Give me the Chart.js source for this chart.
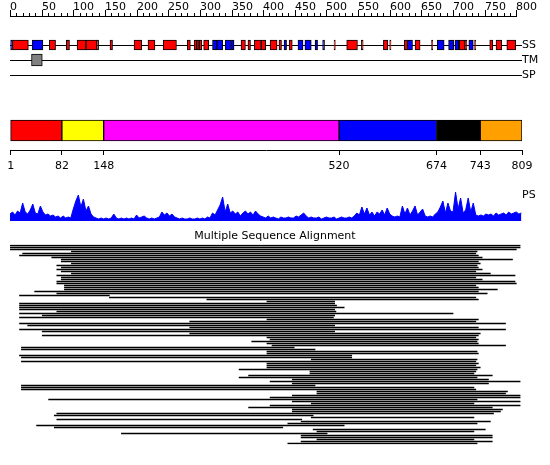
<!DOCTYPE html>
<html>
<head>
<meta charset="utf-8">
<script src="https://cdn.jsdelivr.net/npm/chart.js@4"></script>
<style>
  body { margin: 0; background: #fff; }
  #wrap { position: relative; width: 550px; height: 465px; background: #fff; }
  canvas { position: absolute; left: 0; }
</style>
</head>
<body>
<div id="wrap">
  <canvas id="tracks" width="550" height="84" style="top:0px"></canvas>
  <canvas id="domains" width="550" height="75" style="top:105px"></canvas>
  <canvas id="profile" width="550" height="45" style="top:180px"></canvas>
  <canvas id="msa" width="550" height="235" style="top:225px"></canvas>
</div>
<script>
// sequence length and ruler
const seqLength = 809;
const rulerLabels = [0, 50, 100, 150, 200, 250, 300, 350, 400, 450, 500, 550, 600, 650, 700, 750, 800];

// tracks
const trackNames = ['SS', 'TM', 'SP'];
const ssStart = [1, 4, 35, 62, 89, 106, 120, 137, 158, 196, 218, 242, 280, 291, 295, 299, 306, 320, 327, 340, 350, 365, 376, 386, 397, 411, 425, 433, 441, 455, 466, 482, 494, 512, 532, 555, 590, 600, 623, 628, 640, 666, 675, 693, 703, 710, 719, 725, 734, 758, 768, 785];
const ssEnd   = [4, 29, 52, 72, 94, 120, 137, 140, 162, 208, 229, 263, 285, 295, 299, 303, 314, 327, 336, 350, 354, 372, 380, 397, 404, 422, 429, 437, 446, 463, 476, 486, 497, 514, 549, 558, 597, 602, 628, 636, 648, 668, 686, 701, 709, 719, 722, 732, 736, 763, 777, 799];
const ssType  = ['E', 'H', 'E', 'H', 'H', 'H', 'H', 'H', 'H', 'H', 'H', 'H', 'H', 'H', 'H', 'H', 'H',
                 'E', 'E', 'E', 'E', 'H', 'H', 'H', 'H', 'H', 'H', 'E', 'H', 'E', 'E', 'E', 'E',
                 'H', 'H', 'H', 'H', 'H', 'H', 'E', 'H', 'H', 'E', 'E', 'E', 'H', 'H', 'E', 'H', 'H', 'H', 'H'];
const tmStart = [34];
const tmEnd = [51];

// domains
const domainStart = [1, 82, 148, 520, 674, 743];
const domainEnd = [82, 148, 520, 674, 743, 809];
const domainColors = ['#ff0000', '#ffff00', '#ff00ff', '#0000ff', '#000000', '#ffa000'];
const domainTicks = [1, 82, 148, 520, 674, 743, 809];

// profile score (every 4 residues)
const psScore = [
  7, 9, 6, 10, 8, 18, 9, 7, 11, 17, 8, 7, 15, 9, 6, 7, 5, 6, 4, 5, 3, 5, 3, 4, 3,
  12, 20, 26, 14, 22, 10, 15, 7, 4, 3, 2, 3, 2, 3, 2, 3, 7, 3, 2, 3, 2, 3, 2, 3, 2,
  6, 3, 4, 5, 3, 2, 3, 2, 3, 4, 9, 6, 8, 5, 7, 4, 3, 2, 3, 2, 2, 3, 2, 2, 3,
  2, 3, 2, 4, 3, 8, 6, 11, 16, 24, 9, 17, 8, 10, 7, 9, 5, 8, 10, 7, 9, 6, 10, 7, 5,
  4, 3, 5, 3, 4, 3, 2, 4, 3, 3, 4, 3, 3, 5, 4, 6, 8, 5, 3, 4, 3, 3, 4, 2, 3,
  4, 3, 3, 4, 2, 3, 4, 3, 3, 4, 3, 5, 8, 6, 14, 7, 13, 6, 9, 5, 9, 7, 11, 6, 13,
  7, 5, 4, 5, 4, 15, 7, 13, 6, 10, 15, 6, 9, 12, 5, 4, 5, 4, 7, 9, 14, 20, 8, 18, 10,
  9, 29, 12, 23, 8, 11, 23, 9, 18, 6, 5, 6, 5, 7, 6, 7, 5, 8, 6, 7, 8, 6, 9, 7, 8,
  9, 7, 8
];
const psResidue = psScore.map((v, i) => i * 4);

// alignment rows (start / end residue)
const msaStart = [
  0, 0, 0, 97, 20, 15, 66, 81, 81, 97,
  74, 81, 74, 81, 97, 74, 81, 81, 74, 74,
  86, 86, 86, 39, 74, 15, 157, 311, 406, 15,
  15, 15, 15, 74, 15, 51, 15, 406, 284, 15,
  28, 284, 15, 51, 284, 51, 406, 411,
  382, 406, 414, 18, 18, 406, 406, 15, 18, 476,
  18, 406, 406, 406, 362, 474, 474, 377, 362, 446,
  411, 446, 18, 18, 18, 485, 485, 446, 411, 61,
  446, 476, 411, 377, 446, 446, 74, 70, 476, 74,
  460, 439, 42, 70, 479, 485, 176, 460, 460, 485,
  460, 439
];
const msaEnd = [
  806, 806, 800, 738, 736, 740, 746, 794, 740, 743,
  738, 740, 746, 736, 759, 798, 736, 746, 798, 800,
  736, 740, 770, 740, 754, 157, 736, 740, 513, 513,
  516, 528, 513, 515, 700, 513, 511, 740, 736, 783,
  513, 740, 783, 513, 743, 740, 736, 740,
  738, 740, 783, 449, 482, 738, 740, 540, 540, 738,
  736, 740, 736, 743, 738, 736, 733, 762, 738, 756,
  806, 756, 482, 733, 736, 786, 783, 806, 806, 738,
  806, 733, 806, 762, 778, 775, 764, 479, 733, 461,
  759, 738, 528, 431, 751, 733, 501, 762, 762, 733,
  762, 738
];

Chart.defaults.font.family = '"DejaVu Sans", sans-serif';
Chart.defaults.font.size = 11;
Chart.defaults.color = '#000';

const common = {
  responsive: false,
  animation: false,
  devicePixelRatio: 1,
  events: [],
};
const noPlugins = { legend: { display: false }, tooltip: { enabled: false } };
const xRes = { type: 'linear', min: 0, max: seqLength, display: false };

// small helper for text drawn on a chart's canvas
const textPlugin = (id, text, where) => ({
  id,
  afterDraw(chart) {
    const ctx = chart.ctx;
    const p = where(chart);
    ctx.save();
    ctx.fillStyle = '#000';
    ctx.font = '11px "DejaVu Sans"';
    ctx.textBaseline = 'middle';
    ctx.textAlign = p.align || 'left';
    ctx.fillText(text, p.x, p.y);
    ctx.restore();
  }
});

// ruler along the top, drawn from the x scale
const rulerPlugin = {
  id: 'ruler',
  afterDraw(chart) {
    const x = chart.scales.x;
    const ctx = chart.ctx;
    ctx.save();
    ctx.strokeStyle = '#000';
    ctx.lineWidth = 1;
    ctx.beginPath();
    ctx.moveTo(Math.round(x.getPixelForValue(0)), 16.5);
    ctx.lineTo(Math.round(x.getPixelForValue(800)) + 1, 16.5);
    for (let v = 0; v <= 800; v += 10) {
      const px = Math.round(x.getPixelForValue(v)) + 0.5;
      ctx.moveTo(px, v % 50 === 0 ? 10 : 13);
      ctx.lineTo(px, 16.5);
    }
    ctx.stroke();
    ctx.fillStyle = '#000';
    ctx.font = '11px "DejaVu Sans"';
    ctx.textBaseline = 'alphabetic';
    ctx.textAlign = 'left';
    rulerLabels.forEach(v => ctx.fillText(String(v), Math.round(x.getPixelForValue(v)), 10));
    ctx.restore();
  }
};

new Chart(document.getElementById('tracks'), {
  type: 'bar',
  data: {
    labels: trackNames,
    datasets: [
      {
        data: ssStart.map((s, i) => ({ x: [s, ssEnd[i]], y: 'SS' })),
        backgroundColor: ssType.map(t => t === 'H' ? '#ff0000' : '#0000ff'),
        borderColor: '#000',
        borderWidth: 1,
        borderSkipped: false,
        barThickness: 10,
        grouped: false
      },
      {
        data: tmStart.map((s, i) => ({ x: [s, tmEnd[i]], y: 'TM' })),
        backgroundColor: '#808080',
        borderColor: '#000',
        borderWidth: 1,
        borderSkipped: false,
        barThickness: 12,
        grouped: false
      }
    ]
  },
  options: {
    ...common,
    indexAxis: 'y',
    layout: { padding: { left: 10, right: 0, top: 37.5, bottom: 1.5 } },
    plugins: noPlugins,
    scales: {
      x: xRes,
      y: {
        type: 'category',
        position: 'right',
        offset: true,
        grid: { offset: false, color: '#000', drawTicks: false },
        border: { display: false },
        ticks: { color: '#000', padding: 0, autoSkip: false },
        afterFit(scale) {
          scale.width = 28;
          scale.paddingTop = 0;
          scale.paddingBottom = 0;
        }
      }
    }
  },
  plugins: [rulerPlugin]
});

new Chart(document.getElementById('domains'), {
  type: 'bar',
  data: {
    labels: ['domains'],
    datasets: [{
      data: domainStart.map((s, i) => ({ x: [s, domainEnd[i]], y: 'domains' })),
      backgroundColor: domainColors,
      borderColor: '#000',
      borderWidth: 1,
      borderSkipped: false,
      barThickness: 21
    }]
  },
  options: {
    ...common,
    indexAxis: 'y',
    layout: { padding: { left: 10, right: 28, top: 6, bottom: 8 } },
    plugins: noPlugins,
    scales: {
      x: {
        type: 'linear',
        min: 0,
        max: seqLength,
        afterBuildTicks(scale) { scale.ticks = domainTicks.map(v => ({ value: v })); },
        ticks: { autoSkip: false, maxRotation: 0, color: '#000', padding: 5, callback: v => String(v) },
        grid: { drawOnChartArea: false, tickLength: 5, tickColor: '#000' },
        border: { color: '#000' },
        afterFit(scale) { scale.height = 22; }
      },
      y: { display: false }
    }
  }
});

new Chart(document.getElementById('profile'), {
  type: 'line',
  data: {
    datasets: [{
      data: psScore.map((v, i) => ({ x: psResidue[i], y: v })),
      borderColor: '#0000ff',
      backgroundColor: '#0000ff',
      borderWidth: 1,
      fill: 'origin',
      pointRadius: 0,
      tension: 0
    }]
  },
  options: {
    ...common,
    layout: { padding: { left: 10, right: 28, top: 10, bottom: 4 } },
    plugins: noPlugins,
    scales: {
      x: xRes,
      y: { min: 0, max: 31, display: false }
    }
  },
  plugins: [textPlugin('psLabel', 'PS', c => ({ x: c.chartArea.right, y: 15 }))]
});

new Chart(document.getElementById('msa'), {
  type: 'bar',
  data: {
    labels: msaStart.map((s, i) => String(i + 1)),
    datasets: [{
      data: msaStart.map((s, i) => [s, msaEnd[i]]),
      backgroundColor: '#000',
      borderWidth: 0,
      barThickness: 1
    }]
  },
  options: {
    ...common,
    indexAxis: 'y',
    layout: { padding: { left: 10, right: 28, top: 19.5, bottom: 15.5 } },
    plugins: noPlugins,
    scales: {
      x: xRes,
      y: { display: false }
    }
  },
  plugins: [textPlugin('msaTitle', 'Multiple Sequence Alignment', c => ({ x: 275, y: 11, align: 'center' }))]
});
</script>
</body>
</html>
